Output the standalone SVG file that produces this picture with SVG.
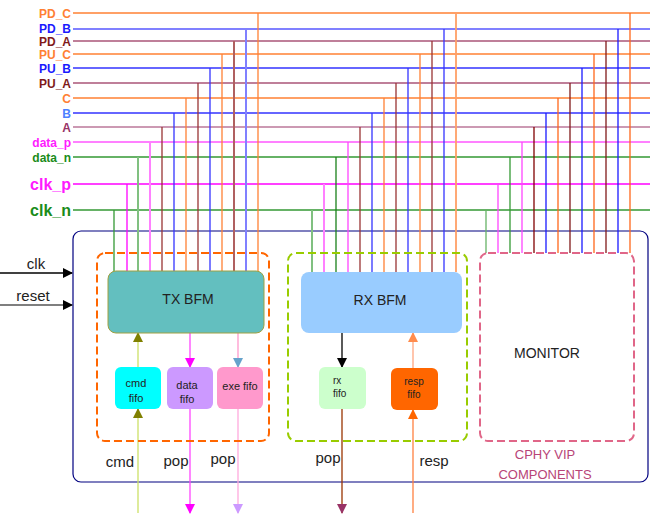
<svg xmlns="http://www.w3.org/2000/svg" width="650" height="515" viewBox="0 0 650 515">
<style>
  .lbl{font-family:"Liberation Sans",Arial,sans-serif;font-weight:bold;font-size:12px;text-anchor:end}
  .big{font-size:16px}
  .t{font-family:"Liberation Sans",Arial,sans-serif;fill:#222;text-anchor:middle}
  .orange{stroke:#ff8033}
  .blue{stroke:#3333ff}
  .lblue{stroke:#8080ff;stroke-width:2}
  .maroon{stroke:#aa5577}
  .vmaroon{stroke:#993333}
  .amaroon{stroke:#cc99b3;stroke-width:2}
  .pink{stroke:#ff80ff;stroke-width:2}
  .mag{stroke:#ff00ff}
  .green{stroke:#339933}
  .lgreen{stroke:#80c080;stroke-width:2}
  line{fill:none;stroke-width:1.3}
  .dash{fill:none;stroke-width:2;stroke-dasharray:8,4}
</style>
<defs>
  <marker id="aBlack" markerUnits="userSpaceOnUse" markerWidth="10" markerHeight="12" refX="9" refY="5" orient="auto"><path d="M0,0 L10,5 L0,10 z" fill="#000"/></marker>
  <marker id="aOlive" markerUnits="userSpaceOnUse" markerWidth="10" markerHeight="12" refX="9" refY="5" orient="auto"><path d="M0,0 L10,5 L0,10 z" fill="#808000"/></marker>
  <marker id="aMag" markerUnits="userSpaceOnUse" markerWidth="10" markerHeight="12" refX="9" refY="5" orient="auto"><path d="M0,0 L10,5 L0,10 z" fill="#ff00ff"/></marker>
  <marker id="aTeal" markerUnits="userSpaceOnUse" markerWidth="10" markerHeight="12" refX="9" refY="5" orient="auto"><path d="M0,0 L10,5 L0,10 z" fill="#66a3cc"/></marker>
  <marker id="aLav" markerUnits="userSpaceOnUse" markerWidth="10" markerHeight="12" refX="9" refY="5" orient="auto"><path d="M0,0 L10,5 L0,10 z" fill="#cc99ff"/></marker>
  <marker id="aPlum" markerUnits="userSpaceOnUse" markerWidth="10" markerHeight="12" refX="9" refY="5" orient="auto"><path d="M0,0 L10,5 L0,10 z" fill="#993366"/></marker>
  <marker id="aOrange" markerUnits="userSpaceOnUse" markerWidth="10" markerHeight="12" refX="9" refY="5" orient="auto"><path d="M0,0 L10,5 L0,10 z" fill="#ff6600"/></marker>
  <marker id="aLOrange" markerUnits="userSpaceOnUse" markerWidth="10" markerHeight="12" refX="9" refY="5" orient="auto"><path d="M0,0 L10,5 L0,10 z" fill="#ff8c4d"/></marker>
</defs>
<rect width="650" height="515" fill="#fff"/>

<g id="signal-labels">
  <text class="lbl" x="71" y="17.5" fill="#ff8033">PD_C</text>
  <text class="lbl" x="71" y="33" fill="#1a1aff">PD_B</text>
  <text class="lbl" x="71" y="45.5" fill="#801a1a">PD_A</text>
  <text class="lbl" x="71" y="58.5" fill="#ff8033">PU_C</text>
  <text class="lbl" x="71" y="72.5" fill="#1a1aff">PU_B</text>
  <text class="lbl" x="71" y="87.5" fill="#801a1a">PU_A</text>
  <text class="lbl" x="71" y="102.5" fill="#ff8033">C</text>
  <text class="lbl" x="71" y="117.5" fill="#4d80ff">B</text>
  <text class="lbl" x="71" y="131.5" fill="#993366">A</text>
  <text class="lbl" x="71" y="146.5" fill="#ff1aff">data_p</text>
  <text class="lbl" x="71" y="161.5" fill="#1a8c1a">data_n</text>
  <text class="lbl big" x="71" y="190" fill="#ff1aff">clk_p</text>
  <text class="lbl big" x="71" y="216" fill="#1a8c1a">clk_n</text>
</g>

<g id="frame">
  <rect x="73" y="231" width="575" height="251" rx="8" fill="none" stroke="#000080" stroke-width="1.2"/>
  <text class="t" x="545" y="459" font-size="13" style="fill:#b84477">CPHY VIP</text>
  <text class="t" x="545" y="479" font-size="13" style="fill:#b84477">COMPONENTS</text>
</g>

<g id="connectors">
  <!-- horizontal buses -->
  <line class="orange" x1="73" y1="13" x2="650" y2="13"/>
  <line class="lblue" x1="73" y1="29" x2="650" y2="29"/>
  <line class="maroon" x1="73" y1="41" x2="650" y2="41"/>
  <line class="orange" x1="73" y1="54" x2="650" y2="54"/>
  <line class="blue" x1="73" y1="68" x2="650" y2="68"/>
  <line class="maroon" x1="73" y1="83" x2="650" y2="83"/>
  <line class="orange" x1="73" y1="98" x2="650" y2="98"/>
  <line class="blue" x1="73" y1="113" x2="650" y2="113"/>
  <line class="amaroon" x1="73" y1="127" x2="650" y2="127"/>
  <line class="pink" x1="73" y1="142" x2="650" y2="142"/>
  <line class="green" x1="73" y1="157" x2="650" y2="157"/>
  <line class="mag" x1="73" y1="184" x2="650" y2="184"/>
  <line class="green" x1="73" y1="210" x2="650" y2="210"/>

  <!-- TX drops -->
  <line class="green" x1="114" y1="210" x2="114" y2="271"/>
  <line class="mag" x1="127" y1="184" x2="127" y2="271"/>
  <line class="lgreen" x1="138" y1="157" x2="138" y2="271"/>
  <line class="pink" x1="150" y1="142" x2="150" y2="271"/>
  <line class="vmaroon" x1="162" y1="127" x2="162" y2="271"/>
  <line class="blue" x1="174" y1="113" x2="174" y2="271"/>
  <line class="orange" x1="186" y1="98" x2="186" y2="271"/>
  <line class="vmaroon" x1="198" y1="83" x2="198" y2="271"/>
  <line class="blue" x1="210" y1="68" x2="210" y2="271"/>
  <line class="orange" x1="222" y1="54" x2="222" y2="271"/>
  <line class="vmaroon" x1="234" y1="41" x2="234" y2="271" style="stroke:#b06060;stroke-width:2"/>
  <line class="lblue" x1="246" y1="29" x2="246" y2="271"/>
  <line class="orange" x1="258" y1="13" x2="258" y2="271"/>

  <!-- RX drops -->
  <line class="lgreen" x1="312" y1="210" x2="312" y2="272"/>
  <line class="pink" x1="324" y1="184" x2="324" y2="272"/>
  <line class="green" x1="336" y1="157" x2="336" y2="272" style="stroke:#1a801a"/>
  <line class="mag" x1="348" y1="142" x2="348" y2="272" style="stroke:#ff44ff"/>
  <line class="vmaroon" x1="360" y1="127" x2="360" y2="272"/>
  <line class="blue" x1="372" y1="113" x2="372" y2="272"/>
  <line class="orange" x1="384" y1="98" x2="384" y2="272"/>
  <line class="vmaroon" x1="396" y1="83" x2="396" y2="272"/>
  <line class="blue" x1="408" y1="68" x2="408" y2="272"/>
  <line class="orange" x1="420" y1="54" x2="420" y2="272"/>
  <line class="vmaroon" x1="432" y1="41" x2="432" y2="272"/>
  <line class="blue" x1="444" y1="29" x2="444" y2="272"/>
  <line class="orange" x1="456" y1="13" x2="456" y2="272" style="stroke:#ffa066;stroke-width:1.8"/>

  <!-- Monitor drops -->
  <line class="green" x1="486" y1="210" x2="486" y2="253" style="stroke:#66b366"/>
  <line class="mag" x1="498" y1="184" x2="498" y2="253" style="stroke:#ff44ff"/>
  <line class="green" x1="510" y1="157" x2="510" y2="253"/>
  <line class="mag" x1="522" y1="142" x2="522" y2="253" style="stroke:#ff44ff"/>
  <line class="vmaroon" x1="534" y1="127" x2="534" y2="253" style="stroke:#800000"/>
  <line class="blue" x1="546" y1="113" x2="546" y2="253" style="stroke:#1a1aff"/>
  <line class="orange" x1="558" y1="98" x2="558" y2="253" style="stroke:#ff6619"/>
  <line class="vmaroon" x1="570" y1="83" x2="570" y2="253" style="stroke:#801a1a"/>
  <line class="blue" x1="582" y1="68" x2="582" y2="253" style="stroke:#1a1aff"/>
  <line class="orange" x1="594" y1="54" x2="594" y2="253" style="stroke:#ff6619"/>
  <line class="vmaroon" x1="606" y1="41" x2="606" y2="253" style="stroke:#801a1a"/>
  <line class="blue" x1="618" y1="29" x2="618" y2="253" style="stroke:#1a1aff"/>
  <line class="orange" x1="630" y1="13" x2="630" y2="253" style="stroke:#ff6619"/>

  <!-- clk / reset -->
  <line x1="0" y1="273" x2="72" y2="273" stroke="#000" marker-end="url(#aBlack)"/>
  <line x1="0" y1="305" x2="72" y2="305" stroke="#555" marker-end="url(#aBlack)"/>

  <!-- cmd -->
  <line x1="138" y1="513" x2="138" y2="409" stroke="#cce066" marker-end="url(#aOlive)"/>
  <line x1="138" y1="367" x2="138" y2="333" stroke="#cce066" marker-end="url(#aOlive)"/>
  <!-- data -->
  <line x1="190" y1="333" x2="190" y2="367" stroke="#ff44ff" stroke-width="2" marker-end="url(#aMag)"/>
  <line x1="190" y1="409" x2="190" y2="513" stroke="#ff44ff" stroke-width="2" marker-end="url(#aMag)"/>
  <!-- exe -->
  <line x1="238" y1="333" x2="238" y2="367" stroke="#ff99cc" marker-end="url(#aTeal)"/>
  <line x1="238" y1="409" x2="238" y2="513" stroke="#ffaadd" marker-end="url(#aLav)"/>
  <!-- rx -->
  <line x1="342" y1="333" x2="342" y2="367" stroke="#000" marker-end="url(#aBlack)"/>
  <line x1="342" y1="409" x2="342" y2="513" stroke="#993300" marker-end="url(#aPlum)"/>
  <!-- resp -->
  <line x1="413" y1="513" x2="413" y2="410" stroke="#ff8040" marker-end="url(#aOrange)"/>
  <line x1="413" y1="368" x2="413" y2="333" stroke="#ffa680" marker-end="url(#aLOrange)"/>
</g>

<g id="io-labels">
  <text class="t" x="36" y="269" font-size="15">clk</text>
  <text class="t" x="33" y="301" font-size="15">reset</text>
  <text class="t" x="120" y="467" font-size="15">cmd</text>
  <text class="t" x="176" y="466" font-size="15">pop</text>
  <text class="t" x="223" y="464" font-size="15">pop</text>
  <text class="t" x="328" y="463" font-size="15">pop</text>
  <text class="t" x="434" y="466" font-size="15">resp</text>
</g>

<g id="tx_group">
  <rect x="97" y="253" width="172" height="188" rx="8" class="dash" stroke="#ff6600"/>
</g>
<g id="tx_bfm">
  <rect x="108" y="271" width="156" height="62" rx="8" fill="#63bfbf" stroke="#a0a040" stroke-width="1"/>
  <text class="t" x="188" y="304" font-size="14">TX BFM</text>
</g>
<g id="cmd_fifo">
  <rect x="115" y="367" width="46" height="42" rx="6" fill="#00ffff"/>
  <text class="t" x="136" y="387" font-size="11">cmd</text>
  <text class="t" x="136" y="402" font-size="11">fifo</text>
</g>
<g id="data_fifo">
  <rect x="167" y="367" width="46" height="42" rx="6" fill="#cc99ff"/>
  <text class="t" x="187" y="389" font-size="11">data</text>
  <text class="t" x="187" y="403" font-size="11">fifo</text>
</g>
<g id="exe_fifo">
  <rect x="217" y="367" width="46" height="42" rx="6" fill="#ff99cc"/>
  <text class="t" x="240" y="390" font-size="11">exe fifo</text>
</g>

<g id="rx_group">
  <rect x="288" y="253" width="179" height="188" rx="8" class="dash" stroke="#99cc00"/>
</g>
<g id="rx_bfm">
  <rect x="301" y="272" width="161" height="61" rx="8" fill="#99ccff"/>
  <text class="t" x="380" y="305" font-size="14">RX BFM</text>
</g>
<g id="rx_fifo">
  <rect x="319" y="367" width="47" height="42" rx="6" fill="#ccffcc"/>
  <text class="t" x="333" y="384" font-size="10" style="text-anchor:start">rx</text>
  <text class="t" x="333" y="397" font-size="10" style="text-anchor:start">fifo</text>
</g>
<g id="resp_fifo">
  <rect x="391" y="368" width="47" height="42" rx="6" fill="#ff6600"/>
  <text class="t" x="414" y="385" font-size="10">resp</text>
  <text class="t" x="414" y="398" font-size="10">fifo</text>
</g>

<g id="monitor">
  <rect x="480" y="253" width="154" height="188" rx="8" class="dash" stroke="#e06688"/>
  <text class="t" x="547" y="358" font-size="14">MONITOR</text>
</g>
</svg>
